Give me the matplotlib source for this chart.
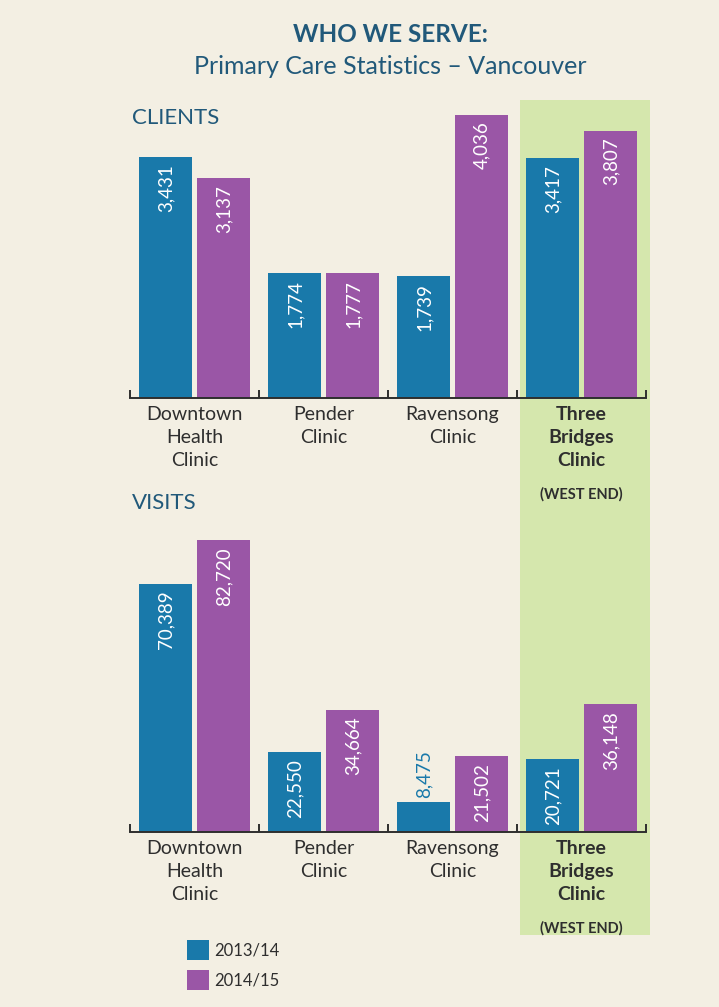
import numpy as np
import matplotlib.pyplot as plt
from matplotlib.patches import Rectangle, Patch

plt.rcParams['font.family'] = ['Lato', 'DejaVu Sans']

clinics = ['Downtown\nHealth\nClinic', 'Pender\nClinic', 'Ravensong\nClinic', 'Three\nBridges\nClinic']
years = ['2013/14', '2014/15']
clients_1314 = [3431, 1774, 1739, 3417]
clients_1415 = [3137, 1777, 4036, 3807]
visits_1314 = [70389, 22550, 8475, 20721]
visits_1415 = [82720, 34664, 21502, 36148]

bg = '#f3efe3'
blue = '#1979aa'
purple = '#9a56a6'
green = '#d5e7ad'
teal = '#21597a'
dark = '#2e2e2e'

W, H = 719, 1007
fig = plt.figure(figsize=(W / 100, H / 100), dpi=100, facecolor=bg)


def fx(px):
    return px / W


def fy(py):
    return 1 - py / H


# green highlight band behind the Three Bridges group
fig.add_artist(Rectangle((fx(520), fy(935)), fx(650) - fx(520), fy(100) - fy(935),
                         transform=fig.transFigure, facecolor=green, edgecolor='none', zorder=0))

fig.text(fx(390), fy(34), 'WHO WE SERVE:', ha='center', va='center',
         fontsize=17.5, fontweight='bold', color=teal)
fig.text(fx(390), fy(67), 'Primary Care Statistics – Vancouver', ha='center', va='center',
         fontsize=18, color=teal)


def panel(top_px, base_px, ymax, v1, v2, title, min_inside):
    ax = fig.add_axes([fx(130), fy(base_px), fx(646) - fx(130), fy(top_px) - fy(base_px)])
    ax.set_facecolor('none')
    x = np.arange(len(clinics))
    w = 0.41
    b1 = ax.bar(x - 0.222, v1, w, color=blue, zorder=2)
    b2 = ax.bar(x + 0.228, v2, w, color=purple, zorder=2)
    for bars, vals, col in [(b1, v1, blue), (b2, v2, purple)]:
        for r, v in zip(bars, vals):
            cx = r.get_x() + r.get_width() / 2
            if v >= min_inside:
                ax.annotate(f'{v:,}', (cx, v), xytext=(0, -5), textcoords='offset points',
                            rotation=90, ha='center', va='top', color='white', fontsize=13.5)
            else:
                ax.annotate(f'{v:,}', (cx, v), xytext=(0, 3), textcoords='offset points',
                            rotation=90, ha='center', va='bottom', color=col, fontsize=13.5)
    ax.set_xlim(-0.5, len(clinics) - 0.5)
    ax.set_ylim(0, ymax)
    for s in ['top', 'right', 'left']:
        ax.spines[s].set_visible(False)
    ax.spines['bottom'].set_color(dark)
    ax.spines['bottom'].set_linewidth(1.4)
    ax.set_yticks([])
    ax.set_xticks(np.arange(len(clinics) + 1) - 0.5)
    ax.set_xticklabels([])
    ax.tick_params(axis='x', direction='in', length=6, width=1.4, color=dark)
    for i, name in enumerate(clinics):
        bold = i == len(clinics) - 1
        ax.annotate(name, (i, 0), xytext=(0, -6), textcoords='offset points',
                    ha='center', va='top', fontsize=14, color=dark, linespacing=1.42,
                    fontweight='bold' if bold else 'normal')
    ax.annotate('(WEST END)', (len(clinics) - 1, 0), xytext=(0, -64), textcoords='offset points',
                ha='center', va='top', fontsize=10.5, color=dark, fontweight='bold')
    fig.text(fx(132), fy(top_px + 18), title, ha='left', va='center', fontsize=16, color=teal)
    return ax


panel(100, 398, 298 / 0.0702, clients_1314, clients_1415, 'CLIENTS', 1000)
panel(485, 832, 347 / 0.00353, visits_1314, visits_1415, 'VISITS', 15000)

handles = [Patch(facecolor=blue, edgecolor='none'), Patch(facecolor=purple, edgecolor='none')]
fig.legend(handles, years, loc='upper left', bbox_to_anchor=(fx(172), fy(925)),
           frameon=False, fontsize=12, handlelength=1.3, handleheight=1.45,
           handletextpad=0.35, labelspacing=0.6, labelcolor=dark)

fig.savefig('out.png', dpi=100, facecolor=bg)
